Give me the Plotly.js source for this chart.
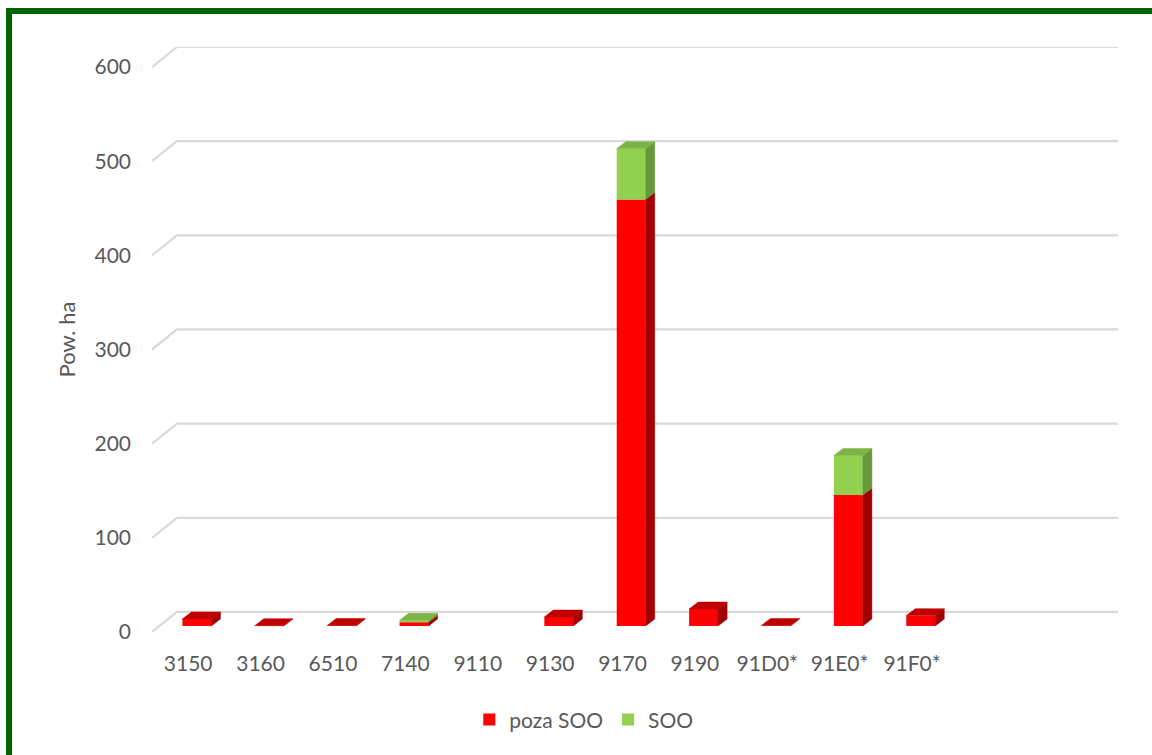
<!DOCTYPE html>
<html>
<head>
<meta charset="utf-8">
<script src="https://cdn.plot.ly/plotly-3.0.1.min.js"></script>
<style>
  html, body { margin: 0; padding: 0; background: #ffffff; overflow: hidden; }
  #frame { position: absolute; left: 6px; top: 8px; width: 1200px; height: 800px;
           border: 6px solid #006400; box-sizing: border-box; }
  #chart { position: absolute; left: 0; top: 0; width: 1152px; height: 755px; }
</style>
</head>
<body>
<div id="frame"></div>
<div id="chart"></div>
<script>
// ---- data ----
const categories = ['3150', '3160', '6510', '7140', '9110', '9130', '9170', '9190', '91D0*', '91E0*', '91F0*'];
const pozaSOO = [7.5, 0.3, 0.5, 4, 0, 9.5, 453, 18, 0.5, 139, 11];
const soo     = [0,   0,   0,   2, 0, 0,   54,  0,  0,   42,  0];
const yTicks  = [0, 100, 200, 300, 400, 500, 600];
const seriesNames = ['poza SOO', 'SOO'];

// ---- 3D look parameters (layout, not data) ----
const nSlots = 13;          // category slots on the floor
const wallDx = 0.345;       // depth of the back wall in slot units
const wallDy = 21.3;        // depth of the back wall in value units
const barShiftX = 0.12;     // front face of bars behind the front plane
const barShiftY = 6.4;
const barDepthX = 0.125;    // depth of a bar
const barDepthY = 7.4;
const barWidth = 0.4;

const colFront = ['#FF0000', '#92D050'];
const colTop   = ['#C00000', '#7DB446'];
const colSide  = ['#A00000', '#67983A'];

const xs = categories.map((c, i) => i + barShiftX);
const baseRed = categories.map(() => barShiftY);
const baseGreen = pozaSOO.map(v => barShiftY + v);

// gridlines on the back wall, with the diagonal on the side wall
const gx = [], gy = [];
yTicks.forEach(v => {
  gx.push(-0.5, -0.5 + wallDx, nSlots - 0.5 + wallDx, null);
  gy.push(v, v + wallDy, v + wallDy, null);
});

// side and top faces of each bar segment
function faces(kind, seg) {
  const px = [], py = [];
  categories.forEach((c, i) => {
    const lo = seg === 0 ? 0 : pozaSOO[i];
    const hi = seg === 0 ? pozaSOO[i] : pozaSOO[i] + soo[i];
    if (!(hi > lo)) return;
    const x0 = i + barShiftX - barWidth / 2, x1 = i + barShiftX + barWidth / 2;
    if (kind === 'side') {
      px.push(x1, x1, x1 + barDepthX, x1 + barDepthX, x1, null);
      py.push(barShiftY + lo, barShiftY + hi, barShiftY + hi + barDepthY, barShiftY + lo + barDepthY, barShiftY + lo, null);
    } else {
      const topmost = seg === 1 || soo[i] === 0;
      if (!topmost) return;
      px.push(x0, x1, x1 + barDepthX, x0 + barDepthX, x0, null);
      py.push(barShiftY + hi, barShiftY + hi, barShiftY + hi + barDepthY, barShiftY + hi + barDepthY, barShiftY + hi, null);
    }
  });
  return {px, py};
}

const traces = [];
traces.push({
  type: 'scatter', mode: 'lines', x: gx, y: gy, xaxis: 'x', yaxis: 'y',
  line: {color: '#D9D9D9', width: 2.2}, hoverinfo: 'skip', showlegend: false
});
[0, 1].forEach(seg => {
  traces.push({
    type: 'bar', name: seriesNames[seg], x: xs, y: seg === 0 ? pozaSOO : soo,
    base: seg === 0 ? baseRed : baseGreen, width: barWidth,
    marker: {color: colFront[seg], line: {width: 0}},
    xaxis: 'x2', yaxis: 'y2'
  });
});
[0, 1].forEach(seg => {
  ['side', 'top'].forEach(kind => {
    const f = faces(kind, seg);
    traces.push({
      type: 'scatter', mode: 'lines', x: f.px, y: f.py, fill: 'toself',
      fillcolor: kind === 'side' ? colSide[seg] : colTop[seg],
      line: {color: kind === 'side' ? colSide[seg] : colTop[seg], width: 0.5},
      xaxis: 'x2', yaxis: 'y2', hoverinfo: 'skip', showlegend: false
    });
  });
});

const xRange = [-0.5, nSlots - 0.5 + wallDx];
const yRange = [0, yTicks[yTicks.length - 1] + wallDy];
const font = {family: 'Lato, "Open Sans", sans-serif', size: 21, color: '#595959'};

const layout = {
  width: 1152, height: 755,
  margin: {l: 152, r: 34, t: 47, b: 123},
  paper_bgcolor: 'rgba(0,0,0,0)', plot_bgcolor: 'rgba(0,0,0,0)',
  font: font,
  barmode: 'overlay',
  showlegend: true,
  legend: {orientation: 'h', x: 0.447, xanchor: 'center', y: -0.15, yanchor: 'middle',
           font: font, traceorder: 'normal'},
  xaxis: {range: xRange, tickmode: 'array', tickvals: categories.map((c, i) => i),
          ticktext: categories, showgrid: false, zeroline: false, showline: false,
          ticks: '', ticklabelstandoff: 17, tickfont: font, fixedrange: true},
  yaxis: {range: yRange, tickmode: 'array', tickvals: yTicks, showgrid: false,
          zeroline: false, showline: false, ticks: '', ticklabelstandoff: 20, tickfont: font,
          title: {text: 'Pow. ha', font: {family: font.family, size: 22, color: '#595959'}, standoff: 12},
          fixedrange: true},
  xaxis2: {range: xRange, overlaying: 'x', visible: false, fixedrange: true},
  yaxis2: {range: yRange, overlaying: 'y', visible: false, fixedrange: true}
};

Plotly.newPlot('chart', traces, layout, {displayModeBar: false, staticPlot: true});
</script>
</body>
</html>
